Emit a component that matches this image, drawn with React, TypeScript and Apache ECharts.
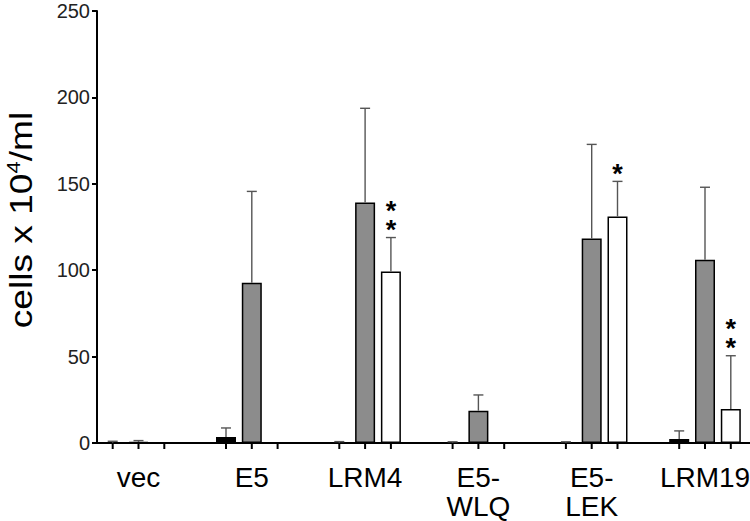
import React, { useEffect, useRef } from "react";
import * as echarts from "echarts";

const categories = ["vec", "E5", "LRM4", "E5-\nWLQ", "E5-\nLEK", "LRM19"];
const blackMean = [0.2, 3.5, 0.2, 0.2, 0.2, 2.3];
const blackErr = [0.8, 5.2, 0.6, 0.5, 0.5, 4.7];
const grayMean = [0.6, 92.8, 139.2, 18.7, 118.3, 106.1];
const grayErr = [0.8, 52.8, 54.5, 9.1, 54.5, 41.9];
const whiteMean = [null, null, 99.2, null, 131.1, 19.7];
const whiteErr = [null, null, 19.7, null, 20.3, 30.8];
const whiteStars = ["", "", "*\n*", "", "*", "*\n*"];
const yTicks = [0, 50, 100, 150, 200, 250];
const yTitle = "cells x 10{sup|4}/ml";

// layout constants (pixels)
const W = 750;
const H = 521;
const CAT_W = 113.3;
const BAR_LEFT = 81.85;
const AXIS_LEFT = 97;
const GRID_TOP = 11;
const GRID_BOTTOM = 78;
const BAR_W = 20;
const SLOT = 25.8;
const FONT = "'Liberation Sans', Arial, Helvetica, sans-serif";

export default function App() {
  const ref = useRef<HTMLDivElement>(null);
  useEffect(() => {
    if (!ref.current) return;
    document.body.style.margin = "0";
    const chart = echarts.init(ref.current, undefined, { renderer: "svg" });
    const gridRight = W - (BAR_LEFT + CAT_W * categories.length);

    const errSeries = (means: (number | null)[], errs: (number | null)[], k: number, stars?: string[]) => ({
      type: "custom",
      xAxisIndex: 0,
      yAxisIndex: 0,
      z: 5,
      silent: true,
      clip: false,
      data: means.map((m, i) => [i, m == null ? NaN : m, errs[i] == null ? NaN : errs[i]]),
      renderItem: (params: any, api: any) => {
        const i = api.value(0);
        const m = api.value(1);
        const e = api.value(2);
        const zero = api.coord([i, 0]);
        const x = zero[0] + (k - 1) * SLOT;
        const children: any[] = [
          {
            type: "line",
            shape: { x1: x, y1: zero[1], x2: x, y2: zero[1] + 6 },
            style: { stroke: "#000", lineWidth: 2 },
          },
        ];
        if (!isNaN(m)) {
          const base = api.coord([i, m]);
          const top = api.coord([i, m + e]);
          children.push(
            {
              type: "line",
              shape: { x1: x, y1: base[1], x2: x, y2: top[1] },
              style: { stroke: "#555", lineWidth: 1.4 },
            },
            {
              type: "line",
              shape: { x1: x - 5, y1: top[1], x2: x + 5, y2: top[1] },
              style: { stroke: "#555", lineWidth: 1.4 },
            }
          );
          if (stars && stars[params.dataIndex]) {
            children.push({
              type: "text",
              style: {
                text: stars[params.dataIndex],
                x: x,
                y: top[1] + 2,
                align: "center",
                verticalAlign: "bottom",
                fontSize: 27,
                lineHeight: 19,
                fontWeight: "bold",
                fontFamily: FONT,
                fill: "#000",
              },
            });
          }
        }
        return { type: "group", children };
      },
    });

    const barBase = {
      type: "bar",
      xAxisIndex: 0,
      yAxisIndex: 0,
      barWidth: BAR_W,
      barGap: ((SLOT - BAR_W) / BAR_W) * 100 + "%",
      z: 3,
      silent: true,
    };

    chart.setOption({
      animation: false,
      grid: [
        { left: BAR_LEFT, right: gridRight, top: GRID_TOP, bottom: GRID_BOTTOM, outerBoundsMode: "none", containLabel: false },
        { left: AXIS_LEFT, right: gridRight, top: GRID_TOP, bottom: GRID_BOTTOM, outerBoundsMode: "none", containLabel: false },
      ],
      graphic: [
        {
          type: "text",
          x: 21,
          y: 220,
          rotation: Math.PI / 2,
          scaleX: 1.16,
          silent: true,
          style: {
            text: yTitle,
            align: "center",
            verticalAlign: "middle",
            fontSize: 32,
            lineHeight: 34,
            fontFamily: FONT,
            fill: "#000",
            rich: {
              sup: { fontSize: 19, verticalAlign: "top", lineHeight: 34, fontFamily: FONT, fill: "#000" },
            },
          },
        },
      ],
      xAxis: [
        {
          type: "category",
          gridIndex: 0,
          data: categories,
          axisLine: { show: false },
          axisTick: { show: false },
          axisLabel: {
            color: "#000",
            fontSize: 28,
            fontFamily: FONT,
            lineHeight: 29,
            margin: 20,
            interval: 0,
          },
        },
        {
          type: "value",
          gridIndex: 1,
          min: 0,
          max: 1,
          axisLine: { show: true, onZero: false, lineStyle: { color: "#000", width: 2 } },
          axisTick: { show: false },
          axisLabel: { show: false },
          splitLine: { show: false },
        },
      ],
      yAxis: [
        {
          type: "value",
          gridIndex: 0,
          min: 0,
          max: 250,
          show: false,
        },
        {
          type: "value",
          gridIndex: 1,
          min: 0,
          max: 250,
          interval: 50,
          axisLine: { show: true, onZero: false, lineStyle: { color: "#000", width: 2 } },
          axisTick: { show: true, length: 5, lineStyle: { color: "#000", width: 2 } },
          axisLabel: {
            color: "#222",
            fontSize: 20,
            fontFamily: FONT,
            margin: 7,
            customValues: yTicks,
          },
          splitLine: { show: false },
        },
      ],
      series: [
        { ...barBase, data: blackMean, itemStyle: { color: "#000", borderColor: "#000", borderWidth: 1.5 } },
        { ...barBase, data: grayMean, itemStyle: { color: "#8c8c8c", borderColor: "#000", borderWidth: 1.5 } },
        { ...barBase, data: whiteMean, itemStyle: { color: "#fff", borderColor: "#000", borderWidth: 1.5 } },
        errSeries(blackMean, blackErr, 0),
        errSeries(grayMean, grayErr, 1),
        errSeries(whiteMean, whiteErr, 2, whiteStars),
      ],
    });
    return () => chart.dispose();
  }, []);
  return (
    <div
      ref={ref}
      style={{ width: W, height: H, position: "absolute", left: 0, top: 0, background: "#fff" }}
    />
  );
}
